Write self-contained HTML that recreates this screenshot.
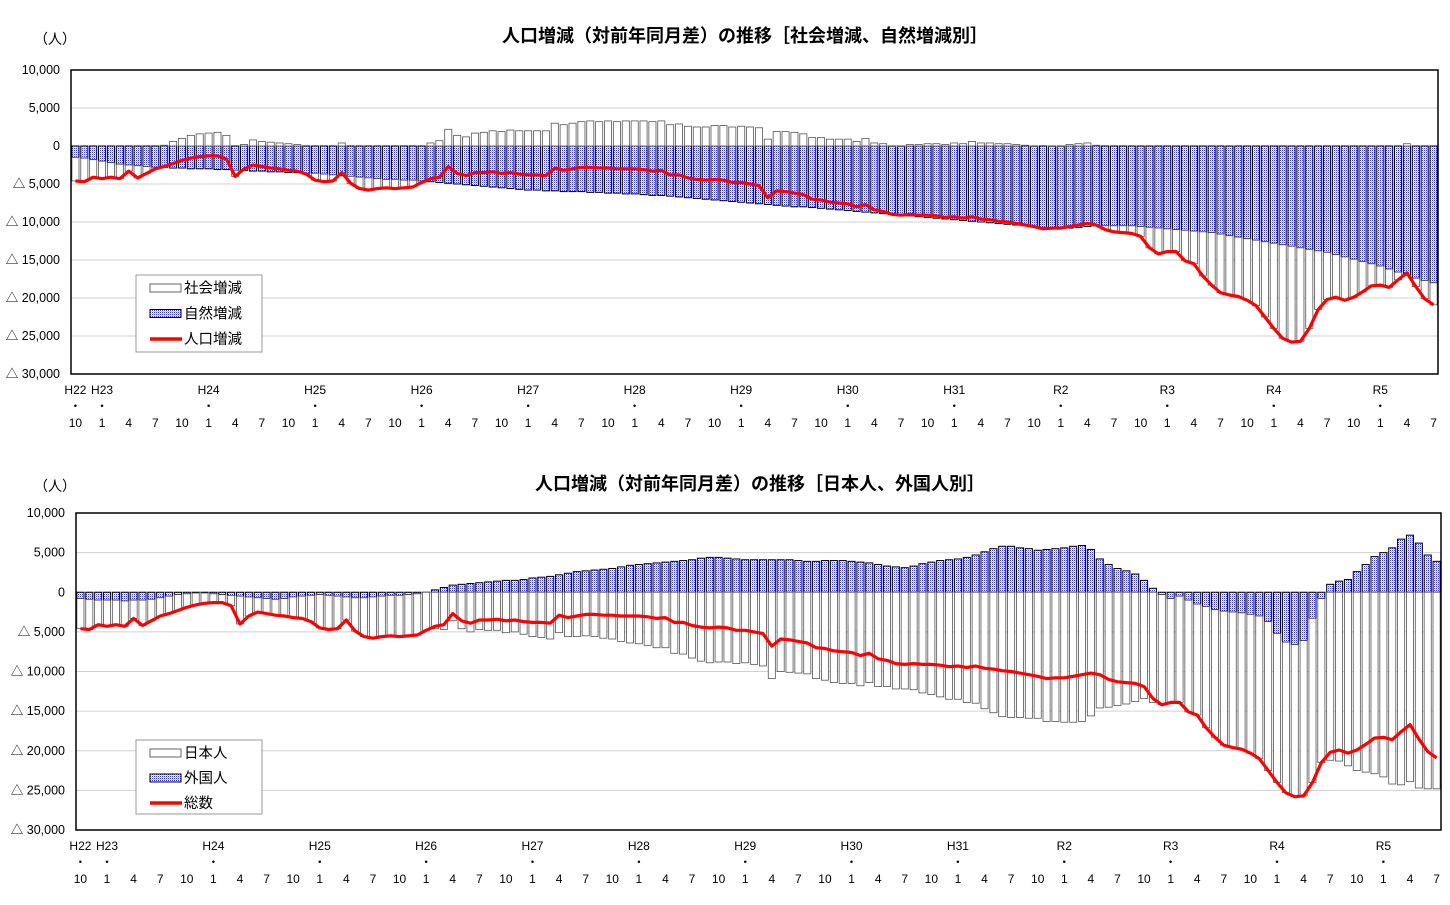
<!DOCTYPE html>
<html><head><meta charset="utf-8">
<style>
body{margin:0;background:#fff;width:1450px;height:900px;overflow:hidden;font-family:"Liberation Sans","Noto Sans CJK JP",sans-serif;}
svg text{font-family:"Liberation Sans","Noto Sans CJK JP",sans-serif;}
</style></head>
<body>
<svg id="chart" width="1450" height="900" xmlns="http://www.w3.org/2000/svg">
<defs>
<pattern id="dots" width="2" height="2" patternUnits="userSpaceOnUse">
<rect width="2" height="2" fill="#ffffff"/>
<rect width="1" height="1" fill="#3a3ae0"/>
<rect x="1" y="1" width="1" height="1" fill="#c8c8f8"/>
</pattern>
</defs>
</svg>
<script>
const total=[-4600,-4700,-4100,-4300,-4100,-4300,-3300,-4200,-3600,-3000,-2700,-2300,-1900,-1600,-1400,-1300,-1300,-1700,-4000,-3000,-2500,-2700,-2900,-3000,-3200,-3300,-3700,-4500,-4700,-4600,-3500,-4900,-5600,-5800,-5600,-5500,-5600,-5500,-5400,-4800,-4300,-4100,-2700,-3600,-3900,-3500,-3500,-3400,-3600,-3500,-3700,-3800,-3800,-3900,-2900,-3200,-3000,-2800,-2800,-2900,-2900,-3000,-3000,-3000,-3100,-3300,-3200,-3800,-3800,-4200,-4400,-4500,-4400,-4500,-4800,-4800,-5000,-5200,-6800,-5900,-6000,-6200,-6400,-7000,-7100,-7400,-7500,-7600,-8000,-7700,-8400,-8600,-9000,-9100,-9000,-9100,-9100,-9200,-9400,-9300,-9500,-9300,-9600,-9700,-9900,-10000,-10200,-10400,-10600,-10900,-10800,-10800,-10600,-10400,-10200,-10400,-11000,-11300,-11400,-11500,-11900,-13400,-14200,-13900,-13900,-15100,-15500,-17100,-18300,-19300,-19600,-19800,-20300,-21000,-22500,-24000,-25300,-25800,-25700,-24000,-21500,-20200,-19900,-20300,-19900,-19200,-18400,-18300,-18600,-17600,-16700,-18500,-20100,-20900];
const natural=[-1500,-1600,-1800,-2000,-2200,-2400,-2500,-2600,-2700,-2800,-2800,-2900,-2900,-3000,-3000,-3000,-3100,-3100,-3200,-3200,-3300,-3300,-3400,-3400,-3500,-3500,-3600,-3600,-3700,-3800,-3900,-4000,-4100,-4200,-4300,-4400,-4400,-4500,-4500,-4600,-4700,-4800,-4900,-5000,-5100,-5200,-5300,-5400,-5500,-5600,-5700,-5800,-5800,-5900,-5900,-6000,-6000,-6000,-6100,-6100,-6200,-6200,-6300,-6300,-6400,-6500,-6500,-6600,-6700,-6800,-6900,-7000,-7100,-7200,-7300,-7400,-7500,-7600,-7700,-7800,-7900,-8000,-8000,-8100,-8200,-8300,-8400,-8500,-8600,-8700,-8800,-8900,-9000,-9100,-9200,-9300,-9400,-9500,-9600,-9700,-9800,-9900,-10000,-10100,-10200,-10300,-10400,-10500,-10600,-10700,-10800,-10800,-10800,-10700,-10600,-10500,-10500,-10500,-10500,-10500,-10600,-10700,-10800,-10900,-11000,-11100,-11200,-11300,-11400,-11600,-11800,-12000,-12200,-12400,-12600,-12800,-13000,-13200,-13400,-13600,-13800,-14000,-14300,-14600,-14900,-15200,-15500,-15800,-16200,-16600,-17000,-17400,-17700,-18000];
const social=[-3100,-3100,-2300,-2300,-1900,-1900,-800,-1600,-900,-200,100,600,1000,1400,1600,1700,1800,1400,-800,200,800,600,500,400,300,200,-100,-900,-1000,-800,400,-900,-1500,-1600,-1300,-1100,-1200,-1000,-900,-200,400,700,2200,1400,1200,1700,1800,2000,1900,2100,2000,2000,2000,2000,3000,2800,3000,3200,3300,3200,3300,3200,3300,3300,3300,3200,3300,2800,2900,2600,2500,2500,2700,2700,2500,2600,2500,2400,900,1900,1900,1800,1600,1100,1100,900,900,900,600,1000,400,300,0,0,200,200,300,300,200,400,300,600,400,400,300,300,200,100,0,-200,0,0,200,300,400,100,-500,-800,-900,-1000,-1300,-2700,-3400,-3000,-2900,-4000,-4300,-5800,-6900,-7700,-7800,-7800,-8100,-8600,-9900,-11200,-12300,-12600,-12300,-10400,-7700,-6200,-5600,-5700,-5000,-4000,-2900,-2500,-2400,-1000,300,-1100,-2400,-2900];
const foreign=[-800,-900,-1000,-1000,-1000,-1100,-1000,-1000,-900,-700,-500,-300,-200,-100,-100,-200,-300,-400,-500,-600,-700,-800,-900,-800,-600,-500,-400,-300,-400,-500,-600,-700,-700,-600,-500,-400,-400,-300,-200,0,300,600,900,1000,1100,1200,1300,1400,1500,1500,1600,1800,1900,2000,2200,2400,2600,2700,2800,2900,3000,3200,3400,3500,3600,3700,3800,3900,4000,4100,4300,4400,4400,4300,4200,4100,4100,4100,4100,4100,4100,4000,3900,3900,4000,4000,4000,3900,3800,3700,3500,3300,3200,3100,3300,3600,3800,4000,4100,4200,4400,4700,5100,5500,5800,5800,5600,5500,5300,5400,5500,5600,5800,5900,5400,4200,3500,3000,2700,2300,1500,500,-300,-800,-500,-1000,-1500,-1800,-2200,-2400,-2500,-2600,-2800,-3000,-3700,-5200,-6300,-6600,-6100,-3300,-800,1000,1400,1600,2600,3500,4500,5000,5600,6700,7200,6200,4700,3900];
const japanese=[-3800,-3800,-3100,-3300,-3100,-3200,-2300,-3200,-2700,-2300,-2200,-2000,-1700,-1500,-1300,-1100,-1000,-1300,-3500,-2400,-1800,-1900,-2000,-2200,-2600,-2800,-3300,-4200,-4300,-4100,-2900,-4200,-4900,-5200,-5100,-5100,-5200,-5200,-5200,-4800,-4600,-4700,-3600,-4600,-5000,-4700,-4800,-4800,-5100,-5000,-5300,-5600,-5700,-5900,-5100,-5600,-5600,-5500,-5600,-5800,-5900,-6200,-6400,-6500,-6700,-7000,-7000,-7700,-7800,-8300,-8700,-8900,-8800,-8800,-9000,-8900,-9100,-9300,-10900,-10000,-10100,-10200,-10300,-10900,-11100,-11400,-11500,-11500,-11800,-11400,-11900,-11900,-12200,-12200,-12300,-12700,-12900,-13200,-13500,-13500,-13900,-14000,-14700,-15200,-15700,-15800,-15800,-15900,-15900,-16300,-16300,-16400,-16400,-16300,-15600,-14600,-14500,-14300,-14100,-13800,-13400,-13900,-13900,-13100,-13400,-14100,-14000,-15300,-16100,-16900,-17100,-17200,-17500,-18000,-18800,-18800,-19000,-19200,-19600,-20700,-20700,-21200,-21300,-21900,-22500,-22700,-22900,-23300,-24200,-24300,-23900,-24700,-24800,-24800];
const yTicks=[10000,5000,0,-5000,-10000,-15000,-20000,-25000,-30000];
const yTickLabels=["10,000","5,000","0","△ 5,000","△ 10,000","△ 15,000","△ 20,000","△ 25,000","△ 30,000"];
const eraLabels=["H22","H23","H24","H25","H26","H27","H28","H29","H30","H31","R2","R3","R4","R5"];
const eraIndex=[0,3,15,27,39,51,63,75,87,99,111,123,135,147];
const monthLabels=["10","1","4","7"];

const NS="http://www.w3.org/2000/svg";
const svg=document.getElementById('chart');
function mk(tag,attrs,parent){const e=document.createElementNS(NS,tag);for(const k in attrs)e.setAttribute(k,attrs[k]);(parent||svg).appendChild(e);return e;}

function drawChart(cfg){
  const g=mk('g',{});
  
  
  const n=total.length;
  const pw=(cfg.x1-cfg.x0)/n;
  const xs=i=>cfg.x0+i*pw;
  const ys=v=>cfg.y0+(10000-v)/40000*(cfg.y1-cfg.y0);
  const t=mk('text',{x:cfg.titleX,y:cfg.titleY,'font-size':18,'font-weight':'bold','text-anchor':'middle',fill:'#000'},g);
  t.textContent=cfg.title;
  
  
  const u=mk('text',{x:cfg.unitX,y:cfg.unitY,'font-size':14,fill:'#000'},g);
  u.textContent='（人）';
  
  
  yTicks.forEach((v,k)=>{
    const y=ys(v);
    if(k>0&&k<yTicks.length-1){const l=mk('line',{x1:cfg.x0,x2:cfg.x1,y1:y,y2:y,stroke:'#d0d0d0','stroke-width':1},g);
      
      }
    const tx=mk('text',{x:cfg.labelX,y:y+4,'font-size':12.5,'text-anchor':'end',fill:'#000'},g);
    tx.textContent=yTickLabels[k];
    
    
  });
  const bw=pw*0.8;
  for(let i=0;i<n;i++){
    const a=cfg.first[i], b=cfg.second[i];
    const bx=xs(i)+(pw-bw)/2;
    const y0=ys(0), ya=ys(a);
    const r1=mk('rect',{x:bx,y:Math.min(y0,ya),width:bw,height:Math.max(0.5,Math.abs(ya-y0)),fill:'url(#dots)',stroke:'#000','stroke-width':1},g);
    
    
    let s0,s1;
    if(b>=0){ s0=a>=0?a:0; s1=s0+b; } else { s0=a<0?a:0; s1=s0+b; }
    const yb0=ys(s0), yb1=ys(s1);
    const r2=mk('rect',{x:bx,y:Math.min(yb0,yb1),width:bw,height:Math.max(0.5,Math.abs(yb1-yb0)),fill:'#fff',stroke:'#555','stroke-width':0.8},g);
    
    
  }
  const pts=total.map((v,i)=>(xs(i)+pw/2).toFixed(1)+','+ys(v).toFixed(1)).join(' ');
  const pl=mk('polyline',{points:pts,fill:'none',stroke:'#ff0000','stroke-width':3.2,'stroke-linejoin':'round'},g);
  
  
  const fr=mk('rect',{x:cfg.x0,y:cfg.y0,width:cfg.x1-cfg.x0,height:cfg.y1-cfg.y0,fill:'none',stroke:'#000','stroke-width':1.5},g);
  
  
  eraLabels.forEach((lab,k)=>{
    const cx=xs(eraIndex[k])+pw/2;
    const e=mk('text',{x:cx,y:cfg.y1+20,'font-size':12,'text-anchor':'middle',fill:'#000'},g);
    e.textContent=lab;
    
    
    const d=mk('text',{x:cx,y:cfg.y1+36,'font-size':12,'text-anchor':'middle',fill:'#000'},g);
    d.textContent='・';
    
    
  });
  for(let i=0;i<n;i+=3){
    const m=mk('text',{x:xs(i)+pw/2,y:cfg.y1+53,'font-size':12,'text-anchor':'middle',fill:'#000'},g);
    m.textContent=monthLabels[(i/3)%4];
    
    
  }
  const L=cfg.legend;
  const lb=mk('rect',{x:L.x,y:L.y,width:126,height:L.h,fill:'#fff',stroke:'#999','stroke-width':1},g);
  
  
  const items=[[cfg.secondLabel,'white'],[cfg.firstLabel,'blue'],[cfg.lineLabel,'line']];
  items.forEach((it,k)=>{
    const cy=L.y+13+k*L.step;
    if(it[1]==='line'){const ll=mk('line',{x1:L.x+14,x2:L.x+46,y1:cy,y2:cy,stroke:'#ff0000','stroke-width':3.5},g);
      
      }
    else{const sw=mk('rect',{x:L.x+14,y:cy-4,width:31,height:8,fill:it[1]==='white'?'#fff':'url(#dots)',stroke:it[1]==='white'?'#666':'#000','stroke-width':1},g);
      
      }
    const lt=mk('text',{x:L.x+48,y:cy+5,'font-size':14.5,fill:'#000'},g);
    lt.textContent=it[0];
    
    
  });
}
drawChart({name:'chart-social-natural',x0:71,x1:1438,y0:70,y1:374,labelX:60,unitX:34,unitY:44,
  title:'人口増減（対前年同月差）の推移［社会増減、自然増減別］',titleX:745,titleY:42,
  first:natural,second:social,firstName:'natural',secondName:'social',
  firstLabel:'自然増減',secondLabel:'社会増減',lineLabel:'人口増減',
  legend:{x:136,y:275,h:77,step:25.5}});
drawChart({name:'chart-japanese-foreign',x0:76,x1:1441,y0:513,y1:830,labelX:65,unitX:34,unitY:491,
  title:'人口増減（対前年同月差）の推移［日本人、外国人別］',titleX:760,titleY:490,
  first:foreign,second:japanese,firstName:'foreign',secondName:'japanese',
  firstLabel:'外国人',secondLabel:'日本人',lineLabel:'総数',
  legend:{x:136,y:740,h:74,step:25}});
</script>
</body></html>
